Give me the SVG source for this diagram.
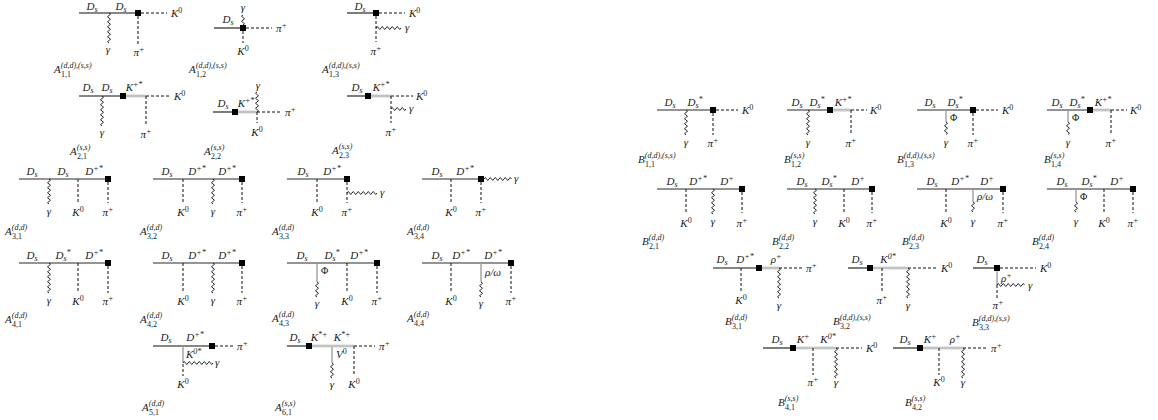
<svg xmlns="http://www.w3.org/2000/svg" width="1158" height="420" viewBox="0 0 1158 420">
<style>
.ln{stroke:#111;stroke-width:1.1;fill:none}
.lg{stroke:#707070;stroke-width:1.3;fill:none}
.pg{stroke:#999;stroke-width:1.3;fill:none}
.db{stroke:#aaa;stroke-width:2.6;fill:none}
.di{stroke:#e8e8e8;stroke-width:0.8;fill:none}
.ds{stroke:#111;stroke-width:1;stroke-dasharray:3 2;fill:none}
.wv{stroke:#111;stroke-width:0.9;fill:none}
.bx{fill:#000}
text{font-family:"Liberation Serif","DejaVu Serif",serif;font-style:italic;font-size:11px;fill:#1a1a1a}
.m{text-anchor:middle}
.c{font-size:11px}
.s{font-size:8px}
.u{font-style:normal}
.f{font-size:10px}
</style>
<rect width="1158" height="420" fill="#fff"/>

<g id="A11">
<line class="ln" x1="79" y1="13" x2="138" y2="13"/>
<line class="ds" x1="141" y1="13" x2="167" y2="13"/>
<line class="ds" x1="138" y1="16" x2="138" y2="44"/>
<path class="wv" d="M109,13 q3,1.25 0,2.5 t0,2.5 t0,2.5 t0,2.5 t0,2.5 t0,2.5 t0,2.5 t0,2.5 t0,2.5 t0,2.5 t0,2.5 t0,2.5"/>
<rect class="bx" x="135" y="10" width="6" height="6"/>
<text class="m" x="92" y="10">D<tspan class="s" dy="1.5">s</tspan></text>
<text class="m" x="121" y="10">D<tspan class="s" dy="1.5">s</tspan></text>
<text x="171" y="17">K<tspan class="s u" dy="-4">0</tspan></text>
<text class="m" x="108" y="53">γ</text>
<text class="m" x="139" y="56">π<tspan class="s" dy="-4">+</tspan></text>
<text class="c" x="54" y="73">A<tspan class="s" dy="-5">(d,d),(s,s)</tspan><tspan class="s u" x="61" dy="9">1,1</tspan></text>
</g>

<g id="A12">
<line class="ln" x1="214" y1="28" x2="243" y2="28"/>
<line class="ds" x1="246" y1="28" x2="272" y2="28"/>
<line class="ds" x1="243" y1="31" x2="243" y2="43"/>
<path class="wv" d="M243,25 q3,-1.25 0,-2.5 t0,-2.5 t0,-2.5 t0,-2.5"/>
<rect class="bx" x="240" y="25" width="6" height="6"/>
<text class="m" x="228" y="23">D<tspan class="s" dy="1.5">s</tspan></text>
<text class="m" x="243" y="11">γ</text>
<text x="276" y="32">π<tspan class="s" dy="-4">+</tspan></text>
<text class="m" x="243" y="55">K<tspan class="s u" dy="-4">0</tspan></text>
<text class="c" x="189" y="73">A<tspan class="s" dy="-5">(d,d),(s,s)</tspan><tspan class="s u" x="196" dy="9">1,2</tspan></text>
</g>

<g id="A13">
<line class="ln" x1="347" y1="13" x2="376" y2="13"/>
<line class="ds" x1="379" y1="13" x2="405" y2="13"/>
<line class="ds" x1="376" y1="16" x2="376" y2="42"/>
<path class="wv" d="M376,28 q1.25,-3 2.5,0 t2.5,0 t2.5,0 t2.5,0 t2.5,0 t2.5,0 t2.5,0 t2.5,0 t2.5,0 t2.5,0"/>
<rect class="bx" x="373" y="10" width="6" height="6"/>
<text class="m" x="360" y="10">D<tspan class="s" dy="1.5">s</tspan></text>
<text x="409" y="17">K<tspan class="s u" dy="-4">0</tspan></text>
<text class="m" x="376" y="55">π<tspan class="s" dy="-4">+</tspan></text>
<text x="405" y="31">γ</text>
<text class="c" x="322" y="73">A<tspan class="s" dy="-5">(d,d),(s,s)</tspan><tspan class="s u" x="329" dy="9">1,3</tspan></text>
</g>

<g id="A21">
<line class="ln" x1="79" y1="96" x2="123" y2="96"/>
<line class="db" x1="126" y1="96" x2="146" y2="96"/>
<line class="di" x1="126" y1="96" x2="146" y2="96"/>
<line class="ds" x1="146" y1="96" x2="170" y2="96"/>
<line class="ds" x1="146" y1="96" x2="146" y2="125"/>
<path class="wv" d="M102,96 q3,1.25 0,2.5 t0,2.5 t0,2.5 t0,2.5 t0,2.5 t0,2.5 t0,2.5 t0,2.5 t0,2.5 t0,2.5 t0,2.5 t0,2.5"/>
<rect class="bx" x="120" y="93" width="6" height="6"/>
<text class="m" x="88" y="91">D<tspan class="s" dy="1.5">s</tspan></text>
<text class="m" x="107" y="91">D<tspan class="s" dy="1.5">s</tspan></text>
<text class="m" x="134" y="91">K<tspan class="s" dy="-4">+*</tspan></text>
<text x="174" y="100">K<tspan class="s u" dy="-4">0</tspan></text>
<text class="m" x="102" y="136">γ</text>
<text class="m" x="146" y="138">π<tspan class="s" dy="-4">+</tspan></text>
<text class="c" x="70" y="155">A<tspan class="s" dy="-5">(s,s)</tspan><tspan class="s u" x="77" dy="9">2,1</tspan></text>
</g>

<g id="A22">
<line class="ln" x1="213" y1="112" x2="235" y2="112"/>
<line class="db" x1="238" y1="112" x2="257" y2="112"/>
<line class="di" x1="238" y1="112" x2="257" y2="112"/>
<line class="ds" x1="257" y1="112" x2="282" y2="112"/>
<line class="ds" x1="257" y1="112" x2="257" y2="123"/>
<path class="wv" d="M257,112 q3,-1.25 0,-2.5 t0,-2.5 t0,-2.5 t0,-2.5 t0,-2.5 t0,-2.5 t0,-2.5 t0,-2.5"/>
<rect class="bx" x="232" y="109" width="6" height="6"/>
<text class="m" x="223" y="107">D<tspan class="s" dy="1.5">s</tspan></text>
<text class="m" x="246" y="107">K<tspan class="s" dy="-4">+*</tspan></text>
<text class="m" x="258" y="89">γ</text>
<text x="285" y="116">π<tspan class="s" dy="-4">+</tspan></text>
<text class="m" x="257" y="136">K<tspan class="s u" dy="-4">0</tspan></text>
<text class="c" x="204" y="155">A<tspan class="s" dy="-5">(s,s)</tspan><tspan class="s u" x="211" dy="9">2,2</tspan></text>
</g>

<g id="A23">
<line class="ln" x1="347" y1="96" x2="368" y2="96"/>
<line class="db" x1="371" y1="96" x2="391" y2="96"/>
<line class="di" x1="371" y1="96" x2="391" y2="96"/>
<line class="ds" x1="391" y1="96" x2="413" y2="96"/>
<line class="ds" x1="391" y1="96" x2="391" y2="123"/>
<path class="wv" d="M391,109 q1.25,-3 2.5,0 t2.5,0 t2.5,0 t2.5,0 t2.5,0 t2.5,0"/>
<rect class="bx" x="365" y="93" width="6" height="6"/>
<text class="m" x="357" y="91">D<tspan class="s" dy="1.5">s</tspan></text>
<text class="m" x="381" y="91">K<tspan class="s" dy="-4">+*</tspan></text>
<text x="416" y="100">K<tspan class="s u" dy="-4">0</tspan></text>
<text class="m" x="391" y="136">π<tspan class="s" dy="-4">+</tspan></text>
<text x="409" y="112">γ</text>
<text class="c" x="332" y="154">A<tspan class="s" dy="-5">(s,s)</tspan><tspan class="s u" x="339" dy="9">2,3</tspan></text>
</g>

<g id="A31">
<line class="lg" x1="19" y1="179" x2="108" y2="179"/>
<path class="wv" d="M49,179 q3,1.25 0,2.5 t0,2.5 t0,2.5 t0,2.5 t0,2.5 t0,2.5 t0,2.5 t0,2.5 t0,2.5 t0,2.5"/>
<line class="ds" x1="78" y1="179" x2="78" y2="203"/>
<line class="ds" x1="108" y1="182" x2="108" y2="203"/>
<rect class="bx" x="105" y="176" width="6" height="6"/>
<text class="m" x="32" y="175">D<tspan class="s" dy="1.5">s</tspan></text>
<text class="m" x="63" y="175">D<tspan class="s" dy="1.5">s</tspan></text>
<text class="m" x="94" y="175">D<tspan class="s" dy="-4">+*</tspan></text>
<text class="m" x="49" y="215">γ</text>
<text class="m" x="78" y="216">K<tspan class="s u" dy="-4">0</tspan></text>
<text class="m" x="108" y="216">π<tspan class="s" dy="-4">+</tspan></text>
<text class="c" x="5" y="235">A<tspan class="s" dy="-5">(d,d)</tspan><tspan class="s u" x="12" dy="9">3,1</tspan></text>
</g>

<g id="A32">
<line class="lg" x1="153" y1="179" x2="242" y2="179"/>
<line class="ds" x1="183" y1="179" x2="183" y2="203"/>
<path class="wv" d="M213,179 q3,1.25 0,2.5 t0,2.5 t0,2.5 t0,2.5 t0,2.5 t0,2.5 t0,2.5 t0,2.5 t0,2.5 t0,2.5"/>
<line class="ds" x1="242" y1="182" x2="242" y2="203"/>
<rect class="bx" x="239" y="176" width="6" height="6"/>
<text class="m" x="167" y="175">D<tspan class="s" dy="1.5">s</tspan></text>
<text class="m" x="197" y="175">D<tspan class="s" dy="-4">+*</tspan></text>
<text class="m" x="227" y="175">D<tspan class="s" dy="-4">+*</tspan></text>
<text class="m" x="183" y="216">K<tspan class="s u" dy="-4">0</tspan></text>
<text class="m" x="213" y="215">γ</text>
<text class="m" x="242" y="216">π<tspan class="s" dy="-4">+</tspan></text>
<text class="c" x="140" y="235">A<tspan class="s" dy="-5">(d,d)</tspan><tspan class="s u" x="147" dy="9">3,2</tspan></text>
</g>

<g id="A33">
<line class="lg" x1="287" y1="179" x2="347" y2="179"/>
<line class="ds" x1="317" y1="179" x2="317" y2="203"/>
<line class="ds" x1="347" y1="182" x2="347" y2="203"/>
<path class="wv" d="M347,193 q1.25,-3 2.5,0 t2.5,0 t2.5,0 t2.5,0 t2.5,0 t2.5,0 t2.5,0 t2.5,0 t2.5,0 t2.5,0 t2.5,0 t2.5,0"/>
<rect class="bx" x="344" y="176" width="6" height="6"/>
<text class="m" x="303" y="175">D<tspan class="s" dy="1.5">s</tspan></text>
<text class="m" x="332" y="175">D<tspan class="s" dy="-4">+*</tspan></text>
<text class="m" x="317" y="216">K<tspan class="s u" dy="-4">0</tspan></text>
<text class="m" x="347" y="216">π<tspan class="s" dy="-4">+</tspan></text>
<text x="380" y="196">γ</text>
<text class="c" x="272" y="235">A<tspan class="s" dy="-5">(d,d)</tspan><tspan class="s u" x="279" dy="9">3,3</tspan></text>
</g>

<g id="A34">
<line class="lg" x1="422" y1="179" x2="481" y2="179"/>
<line class="ds" x1="451" y1="179" x2="451" y2="203"/>
<line class="ds" x1="481" y1="182" x2="481" y2="203"/>
<path class="wv" d="M484,179 q1.25,-3 2.5,0 t2.5,0 t2.5,0 t2.5,0 t2.5,0 t2.5,0 t2.5,0 t2.5,0 t2.5,0 t2.5,0 t2.5,0"/>
<rect class="bx" x="478" y="176" width="6" height="6"/>
<text class="m" x="437" y="175">D<tspan class="s" dy="1.5">s</tspan></text>
<text class="m" x="465" y="175">D<tspan class="s" dy="-4">+*</tspan></text>
<text class="m" x="451" y="216">K<tspan class="s u" dy="-4">0</tspan></text>
<text class="m" x="481" y="216">π<tspan class="s" dy="-4">+</tspan></text>
<text x="514" y="182">γ</text>
<text class="c" x="407" y="235">A<tspan class="s" dy="-5">(d,d)</tspan><tspan class="s u" x="414" dy="9">3,4</tspan></text>
</g>

<g id="A41">
<line class="lg" x1="19" y1="263" x2="108" y2="263"/>
<path class="wv" d="M49,263 q3,1.25 0,2.5 t0,2.5 t0,2.5 t0,2.5 t0,2.5 t0,2.5 t0,2.5 t0,2.5 t0,2.5 t0,2.5 t0,2.5 t0,2.5"/>
<line class="ds" x1="78" y1="263" x2="78" y2="293"/>
<line class="ds" x1="108" y1="266" x2="108" y2="293"/>
<rect class="bx" x="105" y="260" width="6" height="6"/>
<text class="m" x="32" y="259">D<tspan class="s" dy="1.5">s</tspan></text>
<text class="m" x="63" y="259">D<tspan class="s" dy="1.5">s</tspan><tspan class="s" dy="-5.5">*</tspan></text>
<text class="m" x="94" y="259">D<tspan class="s" dy="-4">+*</tspan></text>
<text class="m" x="49" y="304">γ</text>
<text class="m" x="78" y="305">K<tspan class="s u" dy="-4">0</tspan></text>
<text class="m" x="108" y="305">π<tspan class="s" dy="-4">+</tspan></text>
<text class="c" x="5" y="323">A<tspan class="s" dy="-5">(d,d)</tspan><tspan class="s u" x="12" dy="9">4,1</tspan></text>
</g>

<g id="A42">
<line class="lg" x1="153" y1="263" x2="242" y2="263"/>
<line class="ds" x1="183" y1="263" x2="183" y2="293"/>
<path class="wv" d="M213,263 q3,1.25 0,2.5 t0,2.5 t0,2.5 t0,2.5 t0,2.5 t0,2.5 t0,2.5 t0,2.5 t0,2.5 t0,2.5 t0,2.5 t0,2.5"/>
<line class="ds" x1="242" y1="266" x2="242" y2="293"/>
<rect class="bx" x="239" y="260" width="6" height="6"/>
<text class="m" x="167" y="259">D<tspan class="s" dy="1.5">s</tspan></text>
<text class="m" x="197" y="259">D<tspan class="s" dy="-4">+*</tspan></text>
<text class="m" x="227" y="259">D<tspan class="s" dy="-4">+*</tspan></text>
<text class="m" x="183" y="305">K<tspan class="s u" dy="-4">0</tspan></text>
<text class="m" x="213" y="304">γ</text>
<text class="m" x="242" y="305">π<tspan class="s" dy="-4">+</tspan></text>
<text class="c" x="140" y="323">A<tspan class="s" dy="-5">(d,d)</tspan><tspan class="s u" x="147" dy="9">4,2</tspan></text>
</g>

<g id="A43">
<line class="lg" x1="287" y1="263" x2="377" y2="263"/>
<line class="pg" x1="317" y1="263" x2="317" y2="282"/>
<path class="wv" d="M317,282 q3,1.25 0,2.5 t0,2.5 t0,2.5 t0,2.5 t0,2.5 t0,2.5"/>
<line class="ds" x1="347" y1="263" x2="347" y2="293"/>
<line class="ds" x1="377" y1="266" x2="377" y2="293"/>
<rect class="bx" x="374" y="260" width="6" height="6"/>
<text class="m" x="302" y="259">D<tspan class="s" dy="1.5">s</tspan></text>
<text class="m" x="332" y="259">D<tspan class="s" dy="1.5">s</tspan><tspan class="s" dy="-5.5">*</tspan></text>
<text class="m" x="359" y="259">D<tspan class="s" dy="-4">+*</tspan></text>
<text class="u f" x="321" y="274">Φ</text>
<text class="m" x="317" y="307">γ</text>
<text class="m" x="347" y="305">K<tspan class="s u" dy="-4">0</tspan></text>
<text class="m" x="377" y="305">π<tspan class="s" dy="-4">+</tspan></text>
<text class="c" x="272" y="322">A<tspan class="s" dy="-5">(d,d)</tspan><tspan class="s u" x="279" dy="9">4,3</tspan></text>
</g>

<g id="A44">
<line class="lg" x1="422" y1="263" x2="511" y2="263"/>
<line class="ds" x1="451" y1="263" x2="451" y2="293"/>
<line class="pg" x1="481" y1="263" x2="481" y2="282"/>
<path class="wv" d="M481,282 q3,1.25 0,2.5 t0,2.5 t0,2.5 t0,2.5 t0,2.5 t0,2.5"/>
<line class="ds" x1="511" y1="266" x2="511" y2="293"/>
<rect class="bx" x="508" y="260" width="6" height="6"/>
<text class="m" x="437" y="259">D<tspan class="s" dy="1.5">s</tspan></text>
<text class="m" x="461" y="259">D<tspan class="s" dy="-4">+*</tspan></text>
<text class="m" x="493" y="259">D<tspan class="s" dy="-4">+*</tspan></text>
<text x="485" y="276">ρ/ω</text>
<text class="m" x="451" y="305">K<tspan class="s u" dy="-4">0</tspan></text>
<text class="m" x="481" y="307">γ</text>
<text class="m" x="511" y="305">π<tspan class="s" dy="-4">+</tspan></text>
<text class="c" x="407" y="322">A<tspan class="s" dy="-5">(d,d)</tspan><tspan class="s u" x="414" dy="9">4,4</tspan></text>
</g>

<g id="A51">
<line class="ln" x1="153" y1="346" x2="212" y2="346"/>
<line class="ds" x1="215" y1="346" x2="233" y2="346"/>
<line class="pg" x1="183" y1="346" x2="183" y2="363"/>
<path class="wv" d="M183,363 q1.25,-3 2.5,0 t2.5,0 t2.5,0 t2.5,0 t2.5,0 t2.5,0 t2.5,0 t2.5,0 t2.5,0 t2.5,0 t2.5,0 t2.5,0"/>
<line class="ds" x1="183" y1="364" x2="183" y2="376"/>
<rect class="bx" x="209" y="343" width="6" height="6"/>
<text class="m" x="166" y="341">D<tspan class="s" dy="1.5">s</tspan></text>
<text class="m" x="195" y="341">D<tspan class="s" dy="-4">+*</tspan></text>
<text x="237" y="350">π<tspan class="s" dy="-4">+</tspan></text>
<text x="186" y="358">K<tspan class="s" dy="-4">0*</tspan></text>
<text x="215" y="366">γ</text>
<text class="m" x="183" y="388">K<tspan class="s u" dy="-4">0</tspan></text>
<text class="c" x="142" y="411">A<tspan class="s" dy="-5">(d,d)</tspan><tspan class="s u" x="149" dy="9">5,1</tspan></text>
</g>

<g id="A61">
<line class="ln" x1="287" y1="346" x2="309" y2="346"/>
<line class="db" x1="312" y1="346" x2="354" y2="346"/>
<line class="di" x1="312" y1="346" x2="354" y2="346"/>
<line class="ds" x1="354" y1="346" x2="375" y2="346"/>
<line class="pg" x1="332" y1="347" x2="332" y2="363"/>
<path class="wv" d="M332,363 q3,1.25 0,2.5 t0,2.5 t0,2.5 t0,2.5 t0,2.5 t0,2.5"/>
<line class="ds" x1="354" y1="346" x2="354" y2="376"/>
<rect class="bx" x="306" y="343" width="6" height="6"/>
<text class="m" x="295" y="341">D<tspan class="s" dy="1.5">s</tspan></text>
<text class="m" x="319" y="341">K<tspan class="s" dy="-4">*+</tspan></text>
<text class="m" x="342" y="341">K<tspan class="s" dy="-4">*+</tspan></text>
<text x="379" y="350">π<tspan class="s" dy="-4">+</tspan></text>
<text x="336" y="358">V<tspan class="s u" dy="-4">0</tspan></text>
<text class="m" x="332" y="388">γ</text>
<text class="m" x="354" y="388">K<tspan class="s u" dy="-4">0</tspan></text>
<text class="c" x="275" y="411">A<tspan class="s" dy="-5">(s,s)</tspan><tspan class="s u" x="282" dy="9">6,1</tspan></text>
</g>

<g id="B11">
<line class="lg" x1="657" y1="110" x2="713" y2="110"/>
<line class="ds" x1="716" y1="110" x2="738" y2="110"/>
<path class="wv" d="M686,110 q3,1.25 0,2.5 t0,2.5 t0,2.5 t0,2.5 t0,2.5 t0,2.5 t0,2.5 t0,2.5 t0,2.5 t0,2.5"/>
<line class="ds" x1="713" y1="113" x2="713" y2="135"/>
<rect class="bx" x="710" y="107" width="6" height="6"/>
<text class="m" x="670" y="106">D<tspan class="s" dy="1.5">s</tspan></text>
<text class="m" x="695" y="106">D<tspan class="s" dy="1.5">s</tspan><tspan class="s" dy="-5.5">*</tspan></text>
<text x="742" y="114">K<tspan class="s u" dy="-4">0</tspan></text>
<text class="m" x="686" y="146">γ</text>
<text class="m" x="713" y="147">π<tspan class="s" dy="-4">+</tspan></text>
<text class="c" x="638" y="163">B<tspan class="s" dy="-5">(d,d),(s,s)</tspan><tspan class="s u" x="645" dy="9">1,1</tspan></text>
</g>

<g id="B12">
<line class="lg" x1="787" y1="110" x2="830" y2="110"/>
<line class="db" x1="833" y1="110" x2="851" y2="110"/>
<line class="di" x1="833" y1="110" x2="851" y2="110"/>
<line class="ds" x1="851" y1="110" x2="867" y2="110"/>
<path class="wv" d="M808,110 q3,1.25 0,2.5 t0,2.5 t0,2.5 t0,2.5 t0,2.5 t0,2.5 t0,2.5 t0,2.5 t0,2.5 t0,2.5"/>
<line class="ds" x1="851" y1="110" x2="851" y2="135"/>
<rect class="bx" x="827" y="107" width="6" height="6"/>
<text class="m" x="797" y="106">D<tspan class="s" dy="1.5">s</tspan></text>
<text class="m" x="817" y="106">D<tspan class="s" dy="1.5">s</tspan><tspan class="s" dy="-5.5">*</tspan></text>
<text class="m" x="843" y="106">K<tspan class="s" dy="-4">+*</tspan></text>
<text x="870" y="114">K<tspan class="s u" dy="-4">0</tspan></text>
<text class="m" x="808" y="146">γ</text>
<text class="m" x="851" y="147">π<tspan class="s" dy="-4">+</tspan></text>
<text class="c" x="784" y="163">B<tspan class="s" dy="-5">(s,s)</tspan><tspan class="s u" x="791" dy="9">1,2</tspan></text>
</g>

<g id="B13">
<line class="lg" x1="917" y1="110" x2="973" y2="110"/>
<line class="pg" x1="946" y1="110" x2="946" y2="122"/>
<path class="wv" d="M946,122 q3,1.25 0,2.5 t0,2.5 t0,2.5 t0,2.5 t0,2.5"/>
<line class="ds" x1="973" y1="113" x2="973" y2="135"/>
<line class="ds" x1="976" y1="110" x2="998" y2="110"/>
<rect class="bx" x="970" y="107" width="6" height="6"/>
<text class="m" x="930" y="106">D<tspan class="s" dy="1.5">s</tspan></text>
<text class="m" x="955" y="106">D<tspan class="s" dy="1.5">s</tspan><tspan class="s" dy="-5.5">*</tspan></text>
<text class="u f" x="950" y="121">Φ</text>
<text x="1002" y="114">K<tspan class="s u" dy="-4">0</tspan></text>
<text class="m" x="946" y="146">γ</text>
<text class="m" x="973" y="147">π<tspan class="s" dy="-4">+</tspan></text>
<text class="c" x="897" y="163">B<tspan class="s" dy="-5">(d,d),(s,s)</tspan><tspan class="s u" x="904" dy="9">1,3</tspan></text>
</g>

<g id="B14">
<line class="lg" x1="1047" y1="110" x2="1090" y2="110"/>
<line class="db" x1="1093" y1="110" x2="1111" y2="110"/>
<line class="di" x1="1093" y1="110" x2="1111" y2="110"/>
<line class="ds" x1="1111" y1="110" x2="1127" y2="110"/>
<line class="pg" x1="1068" y1="110" x2="1068" y2="122"/>
<path class="wv" d="M1068,122 q3,1.25 0,2.5 t0,2.5 t0,2.5 t0,2.5 t0,2.5"/>
<line class="ds" x1="1111" y1="110" x2="1111" y2="135"/>
<rect class="bx" x="1087" y="107" width="6" height="6"/>
<text class="m" x="1057" y="106">D<tspan class="s" dy="1.5">s</tspan></text>
<text class="m" x="1077" y="106">D<tspan class="s" dy="1.5">s</tspan><tspan class="s" dy="-5.5">*</tspan></text>
<text class="m" x="1103" y="106">K<tspan class="s" dy="-4">+*</tspan></text>
<text class="u f" x="1072" y="121">Φ</text>
<text x="1130" y="114">K<tspan class="s u" dy="-4">0</tspan></text>
<text class="m" x="1068" y="146">γ</text>
<text class="m" x="1111" y="147">π<tspan class="s" dy="-4">+</tspan></text>
<text class="c" x="1044" y="163">B<tspan class="s" dy="-5">(s,s)</tspan><tspan class="s u" x="1051" dy="9">1,4</tspan></text>
</g>

<g id="B21">
<line class="lg" x1="657" y1="189" x2="742" y2="189"/>
<line class="ds" x1="686" y1="189" x2="686" y2="213"/>
<path class="wv" d="M713,189 q3,1.25 0,2.5 t0,2.5 t0,2.5 t0,2.5 t0,2.5 t0,2.5 t0,2.5 t0,2.5 t0,2.5 t0,2.5"/>
<line class="ds" x1="742" y1="192" x2="742" y2="213"/>
<rect class="bx" x="739" y="186" width="6" height="6"/>
<text class="m" x="672" y="185">D<tspan class="s" dy="1.5">s</tspan></text>
<text class="m" x="698" y="185">D<tspan class="s" dy="-4">+*</tspan></text>
<text class="m" x="727" y="185">D<tspan class="s" dy="-4">+</tspan></text>
<text class="m" x="686" y="227">K<tspan class="s u" dy="-4">0</tspan></text>
<text class="m" x="713" y="225">γ</text>
<text class="m" x="742" y="227">π<tspan class="s" dy="-4">+</tspan></text>
<text class="c" x="642" y="245">B<tspan class="s" dy="-5">(d,d)</tspan><tspan class="s u" x="649" dy="9">2,1</tspan></text>
</g>

<g id="B22">
<line class="lg" x1="787" y1="189" x2="872" y2="189"/>
<path class="wv" d="M815,189 q3,1.25 0,2.5 t0,2.5 t0,2.5 t0,2.5 t0,2.5 t0,2.5 t0,2.5 t0,2.5 t0,2.5 t0,2.5"/>
<line class="ds" x1="844" y1="189" x2="844" y2="213"/>
<line class="ds" x1="872" y1="192" x2="872" y2="213"/>
<rect class="bx" x="869" y="186" width="6" height="6"/>
<text class="m" x="802" y="185">D<tspan class="s" dy="1.5">s</tspan></text>
<text class="m" x="829" y="185">D<tspan class="s" dy="1.5">s</tspan><tspan class="s" dy="-5.5">*</tspan></text>
<text class="m" x="858" y="185">D<tspan class="s" dy="-4">+</tspan></text>
<text class="m" x="815" y="225">γ</text>
<text class="m" x="844" y="227">K<tspan class="s u" dy="-4">0</tspan></text>
<text class="m" x="872" y="227">π<tspan class="s" dy="-4">+</tspan></text>
<text class="c" x="772" y="245">B<tspan class="s" dy="-5">(d,d)</tspan><tspan class="s u" x="779" dy="9">2,2</tspan></text>
</g>

<g id="B23">
<line class="lg" x1="917" y1="189" x2="1003" y2="189"/>
<line class="ds" x1="946" y1="189" x2="946" y2="213"/>
<line class="pg" x1="973" y1="189" x2="973" y2="202"/>
<path class="wv" d="M973,202 q3,1.25 0,2.5 t0,2.5 t0,2.5 t0,2.5"/>
<line class="ds" x1="1003" y1="192" x2="1003" y2="213"/>
<rect class="bx" x="1000" y="186" width="6" height="6"/>
<text class="m" x="932" y="185">D<tspan class="s" dy="1.5">s</tspan></text>
<text class="m" x="960" y="185">D<tspan class="s" dy="-4">+*</tspan></text>
<text class="m" x="987" y="185">D<tspan class="s" dy="-4">+</tspan></text>
<text x="977" y="200">ρ/ω</text>
<text class="m" x="946" y="227">K<tspan class="s u" dy="-4">0</tspan></text>
<text class="m" x="973" y="225">γ</text>
<text class="m" x="1003" y="227">π<tspan class="s" dy="-4">+</tspan></text>
<text class="c" x="902" y="245">B<tspan class="s" dy="-5">(d,d)</tspan><tspan class="s u" x="909" dy="9">2,3</tspan></text>
</g>

<g id="B24">
<line class="lg" x1="1047" y1="189" x2="1133" y2="189"/>
<line class="pg" x1="1076" y1="189" x2="1076" y2="202"/>
<path class="wv" d="M1076,202 q3,1.25 0,2.5 t0,2.5 t0,2.5 t0,2.5"/>
<line class="ds" x1="1104" y1="189" x2="1104" y2="213"/>
<line class="ds" x1="1133" y1="192" x2="1133" y2="213"/>
<rect class="bx" x="1130" y="186" width="6" height="6"/>
<text class="m" x="1062" y="185">D<tspan class="s" dy="1.5">s</tspan></text>
<text class="m" x="1089" y="185">D<tspan class="s" dy="1.5">s</tspan><tspan class="s" dy="-5.5">*</tspan></text>
<text class="m" x="1117" y="185">D<tspan class="s" dy="-4">+</tspan></text>
<text class="u f" x="1080" y="200">Φ</text>
<text class="m" x="1076" y="225">γ</text>
<text class="m" x="1104" y="227">K<tspan class="s u" dy="-4">0</tspan></text>
<text class="m" x="1133" y="227">π<tspan class="s" dy="-4">+</tspan></text>
<text class="c" x="1032" y="245">B<tspan class="s" dy="-5">(d,d)</tspan><tspan class="s u" x="1039" dy="9">2,4</tspan></text>
</g>

<g id="B31">
<line class="ln" x1="713" y1="268" x2="759" y2="268"/>
<line class="ds" x1="741" y1="268" x2="741" y2="293"/>
<line class="db" x1="762" y1="268" x2="779" y2="268"/>
<line class="di" x1="762" y1="268" x2="779" y2="268"/>
<path class="wv" d="M779,268 q3,1.25 0,2.5 t0,2.5 t0,2.5 t0,2.5 t0,2.5 t0,2.5 t0,2.5 t0,2.5 t0,2.5 t0,2.5 t0,2.5 t0,2.5"/>
<line class="ds" x1="779" y1="268" x2="802" y2="268"/>
<rect class="bx" x="756" y="265" width="6" height="6"/>
<text class="m" x="722" y="263">D<tspan class="s" dy="1.5">s</tspan></text>
<text class="m" x="745" y="263">D<tspan class="s" dy="-4">+*</tspan></text>
<text class="m" x="776" y="263">ρ<tspan class="s" dy="-4">+</tspan></text>
<text x="806" y="272">π<tspan class="s" dy="-4">+</tspan></text>
<text class="m" x="741" y="304">K<tspan class="s u" dy="-4">0</tspan></text>
<text class="m" x="779" y="309">γ</text>
<text class="c" x="725" y="325">B<tspan class="s" dy="-5">(d,d)</tspan><tspan class="s u" x="732" dy="9">3,1</tspan></text>
</g>

<g id="B32">
<line class="ln" x1="848" y1="268" x2="870" y2="268"/>
<line class="db" x1="873" y1="268" x2="908" y2="268"/>
<line class="di" x1="873" y1="268" x2="908" y2="268"/>
<line class="ds" x1="882" y1="268" x2="882" y2="293"/>
<path class="wv" d="M908,268 q3,1.25 0,2.5 t0,2.5 t0,2.5 t0,2.5 t0,2.5 t0,2.5 t0,2.5 t0,2.5 t0,2.5 t0,2.5 t0,2.5 t0,2.5"/>
<line class="ds" x1="908" y1="268" x2="937" y2="268"/>
<rect class="bx" x="867" y="265" width="6" height="6"/>
<text class="m" x="857" y="263">D<tspan class="s" dy="1.5">s</tspan></text>
<text class="m" x="888" y="263">K<tspan class="s" dy="-4">0*</tspan></text>
<text x="941" y="272">K<tspan class="s u" dy="-4">0</tspan></text>
<text class="m" x="882" y="304">π<tspan class="s" dy="-4">+</tspan></text>
<text class="m" x="908" y="309">γ</text>
<text class="c" x="833" y="325">B<tspan class="s" dy="-5">(d,d),(s,s)</tspan><tspan class="s u" x="840" dy="9">3,2</tspan></text>
</g>

<g id="B33">
<line class="ln" x1="973" y1="268" x2="997" y2="268"/>
<line class="ds" x1="1000" y1="268" x2="1036" y2="268"/>
<line class="pg" x1="997" y1="271" x2="997" y2="285"/>
<path class="wv" d="M997,285 q1.25,-3 2.5,0 t2.5,0 t2.5,0 t2.5,0 t2.5,0 t2.5,0 t2.5,0 t2.5,0 t2.5,0 t2.5,0 t2.5,0"/>
<line class="ds" x1="997" y1="285" x2="997" y2="299"/>
<rect class="bx" x="994" y="265" width="6" height="6"/>
<text class="m" x="982" y="263">D<tspan class="s" dy="1.5">s</tspan></text>
<text x="1040" y="272">K<tspan class="s u" dy="-4">0</tspan></text>
<text x="1001" y="282">ρ<tspan class="s" dy="-4">+</tspan></text>
<text x="1028" y="289">γ</text>
<text class="m" x="998" y="309">π<tspan class="s" dy="-4">+</tspan></text>
<text class="c" x="972" y="326">B<tspan class="s" dy="-5">(d,d),(s,s)</tspan><tspan class="s u" x="979" dy="9">3,3</tspan></text>
</g>

<g id="B41">
<line class="ln" x1="763" y1="348" x2="793" y2="348"/>
<line class="db" x1="796" y1="348" x2="836" y2="348"/>
<line class="di" x1="796" y1="348" x2="836" y2="348"/>
<line class="ds" x1="813" y1="348" x2="813" y2="375"/>
<path class="wv" d="M836,348 q3,1.25 0,2.5 t0,2.5 t0,2.5 t0,2.5 t0,2.5 t0,2.5 t0,2.5 t0,2.5 t0,2.5 t0,2.5 t0,2.5 t0,2.5"/>
<line class="ds" x1="836" y1="348" x2="862" y2="348"/>
<rect class="bx" x="790" y="345" width="6" height="6"/>
<text class="m" x="777" y="343">D<tspan class="s" dy="1.5">s</tspan></text>
<text class="m" x="803" y="343">K<tspan class="s" dy="-4">+</tspan></text>
<text class="m" x="828" y="343">K<tspan class="s" dy="-4">0*</tspan></text>
<text x="866" y="352">K<tspan class="s u" dy="-4">0</tspan></text>
<text class="m" x="813" y="386">π<tspan class="s" dy="-4">+</tspan></text>
<text class="m" x="836" y="386">γ</text>
<text class="c" x="778" y="406">B<tspan class="s" dy="-5">(s,s)</tspan><tspan class="s u" x="785" dy="9">4,1</tspan></text>
</g>

<g id="B42">
<line class="ln" x1="893" y1="348" x2="920" y2="348"/>
<line class="db" x1="923" y1="348" x2="963" y2="348"/>
<line class="di" x1="923" y1="348" x2="963" y2="348"/>
<line class="ds" x1="939" y1="348" x2="939" y2="375"/>
<path class="wv" d="M963,348 q3,1.25 0,2.5 t0,2.5 t0,2.5 t0,2.5 t0,2.5 t0,2.5 t0,2.5 t0,2.5 t0,2.5 t0,2.5 t0,2.5 t0,2.5"/>
<line class="ds" x1="963" y1="348" x2="987" y2="348"/>
<rect class="bx" x="917" y="345" width="6" height="6"/>
<text class="m" x="905" y="343">D<tspan class="s" dy="1.5">s</tspan></text>
<text class="m" x="930" y="343">K<tspan class="s" dy="-4">+</tspan></text>
<text class="m" x="955" y="343">ρ<tspan class="s" dy="-4">+</tspan></text>
<text x="991" y="352">π<tspan class="s" dy="-4">+</tspan></text>
<text class="m" x="939" y="386">K<tspan class="s u" dy="-4">0</tspan></text>
<text class="m" x="963" y="386">γ</text>
<text class="c" x="905" y="406">B<tspan class="s" dy="-5">(s,s)</tspan><tspan class="s u" x="912" dy="9">4,2</tspan></text>
</g>
</svg>
